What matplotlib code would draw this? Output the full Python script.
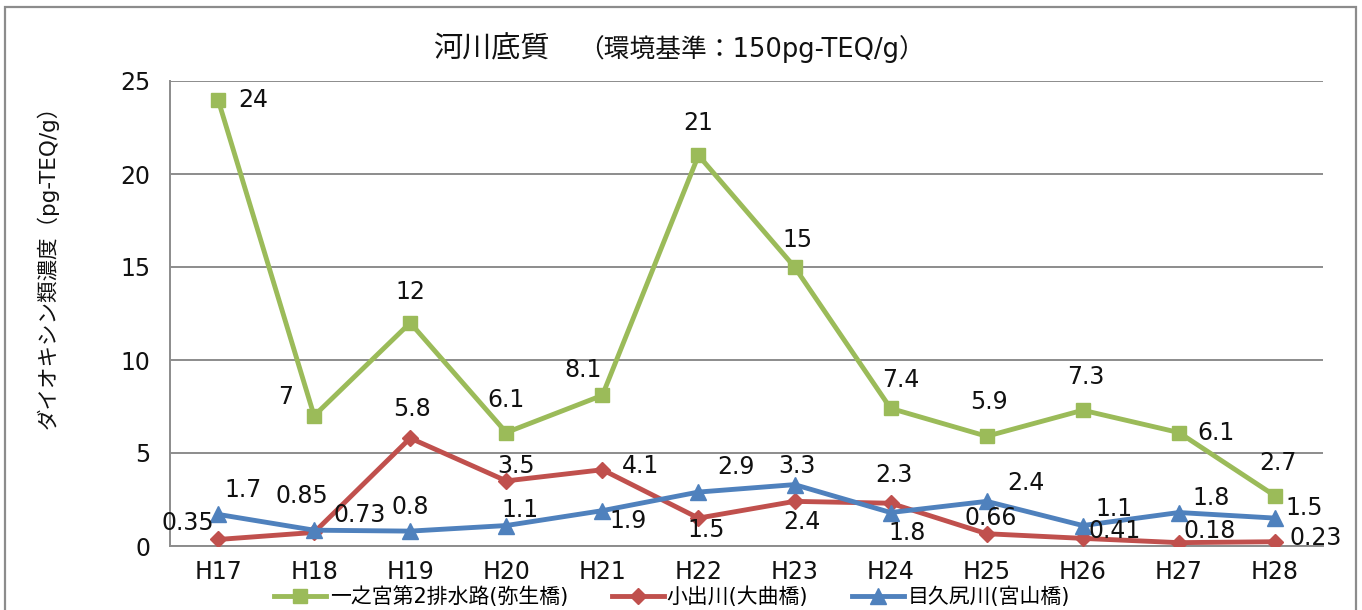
import numpy as np
import matplotlib
matplotlib.use("Agg")
import matplotlib.pyplot as plt
from matplotlib.patches import Rectangle

plt.rcParams['font.family'] = ['DejaVu Sans', 'Noto Sans CJK JP']

# data
years = ['H17', 'H18', 'H19', 'H20', 'H21', 'H22', 'H23', 'H24', 'H25', 'H26', 'H27', 'H28']
ichinomiya = [24, 7, 12, 6.1, 8.1, 21, 15, 7.4, 5.9, 7.3, 6.1, 2.7]
koide = [0.35, 0.73, 5.8, 3.5, 4.1, 1.5, 2.4, 2.3, 0.66, 0.41, 0.18, 0.23]
mekujiri = [1.7, 0.85, 0.8, 1.1, 1.9, 2.9, 3.3, 1.8, 2.4, 1.1, 1.8, 1.5]
series_names = ['一之宮第2排水路(弥生橋)', '小出川(大曲橋)', '目久尻川(宮山橋)']

# label offsets in pixels (dx, dy up)
off_green = [(35, 0), (-28, 19), (0, 31), (0, 33), (-19, 25), (0, 32),
             (3, 27), (10, 28), (2, 34), (3, 33), (37, 0), (3, 33)]
off_red = [(-30, 16), (46, 17), (2, 29), (10, 15), (38, 4), (8, -12),
           (7, -21), (3, 28), (4, 16), (32, 7), (31, 12), (41, 4)]
off_blue = [(25, 24), (-12, 34), (0, 24), (14, 16), (26, -10), (37, 25),
            (2, 19), (17, -20), (39, 18), (31, 17), (32, 15), (29, 10)]

green = '#9BBB59'
red = '#C0504D'
blue = '#4F81BD'

fig = plt.figure(figsize=(13.62, 6.10), dpi=100)
ax = fig.add_axes([170/1362, 1-546/610, (1323-170)/1362, (546-81)/610])

x = np.arange(len(years))
l1, = ax.plot(x, ichinomiya, color=green, lw=3.5, marker='s', ms=10, zorder=3)
l2, = ax.plot(x, koide, color=red, lw=3.5, marker='D', ms=8.5, zorder=4)
l3, = ax.plot(x, mekujiri, color=blue, lw=3.5, marker='^', ms=11, zorder=5)

for vals, offs in [(ichinomiya, off_green), (koide, off_red), (mekujiri, off_blue)]:
    for i, v in enumerate(vals):
        ax.annotate(f'{v:g}', (x[i], v), xytext=offs[i], textcoords='offset pixels',
                    ha='center', va='center', fontsize=17, color='#111111', zorder=6)

ax.set_xlim(-0.5, len(years) - 0.5)
ax.set_ylim(0, 25)
ax.set_yticks([0, 5, 10, 15, 20, 25])
ax.set_xticks(x)
ax.set_xticklabels(years)
ax.tick_params(axis='both', length=0, labelsize=17, colors='#111111')
ax.tick_params(axis='y', pad=14)
ax.tick_params(axis='x', pad=10)
ax.yaxis.grid(True, color='#8c8c8c', lw=1.4)
ax.set_axisbelow(True)
for s in ['top', 'right']:
    ax.spines[s].set_visible(False)
for s in ['left', 'bottom']:
    ax.spines[s].set_color('#8c8c8c')
    ax.spines[s].set_linewidth(1.4)

fig.text(433/1362, 1-49/610, '河川底質', fontsize=21, ha='left', va='center', color='#111111')
fig.text(578/1362, 1-49/610, '（環境基準：150pg-TEQ/g）', fontsize=18.5, ha='left', va='center', color='#111111')
fig.text(47/1362, 1-262/610, 'ダイオキシン類濃度（pg-TEQ/g）', fontsize=15.5, rotation=90,
         ha='center', va='center', color='#111111')

fig.legend([l1, l2, l3], series_names, loc='center', bbox_to_anchor=(672/1362, 1-597/610),
           ncol=3, frameon=False, fontsize=15, handlelength=2.5, handletextpad=0.15,
           columnspacing=2.1, borderaxespad=0)

fig.patches.append(Rectangle((5/1362, -0.05), (1356-5)/1362, 1.05-7/610, transform=fig.transFigure,
                             fill=False, edgecolor='#8c8c8c', lw=1.6))

fig.savefig('out.png', dpi=100)
